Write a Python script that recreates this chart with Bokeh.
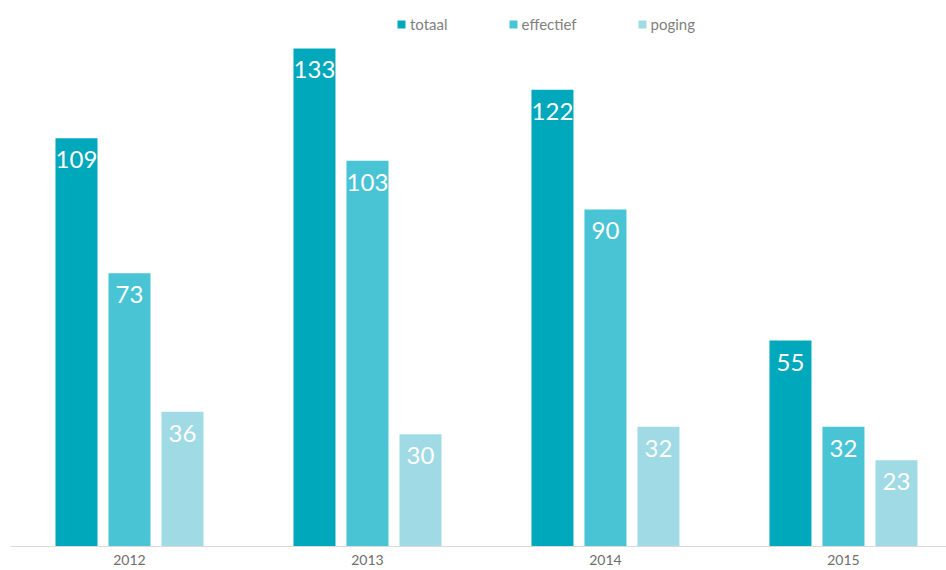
from bokeh.plotting import figure
from bokeh.models import ColumnDataSource, Legend, LegendItem, Range1d, FixedTicker
from bokeh.core.properties import value
from bokeh.embed import file_html
from bokeh.resources import INLINE

years = ["2012", "2013", "2014", "2015"]
series = ["totaal", "effectief", "poging"]
totaal = [109, 133, 122, 55]
effectief = [73, 103, 90, 32]
poging = [36, 30, 32, 23]
colors = ["#00A8BC", "#48C4D4", "#A0DAE4"]

FONT = "Lato"

p = figure(width=946, height=570, output_backend="svg", toolbar_location=None,
           x_range=Range1d(-0.5, 3.433), y_range=Range1d(0, 145.8),
           min_border_left=10, min_border_right=0, min_border_top=0, min_border_bottom=24)
p.outline_line_color = None
p.grid.grid_line_color = None
p.yaxis.visible = False
p.background_fill_color = "white"

xs = list(range(len(years)))
offsets = [-0.2227, 0.0, 0.2227]
renderers = []
for vals, off, col, name in zip([totaal, effectief, poging], offsets, colors, series):
    src = ColumnDataSource(dict(x=[x + off for x in xs], top=vals,
                                label=[str(v) for v in vals]))
    r = p.vbar(x="x", top="top", width=0.1765, source=src, fill_color=col, line_color=None)
    renderers.append((name, r))
    p.text(x="x", y="top", text="label", source=src, text_color="white",
           text_font=value(FONT), text_font_size="24px", text_align="center",
           text_baseline="top", y_offset=13)

p.xaxis.ticker = FixedTicker(ticks=xs)
p.xaxis.major_label_overrides = {i: y for i, y in enumerate(years)}
p.xaxis.axis_line_color = "#D9D9D9"
p.xaxis.axis_line_width = 1
p.xaxis.major_tick_line_color = None
p.xaxis.minor_tick_line_color = None
p.xaxis.major_label_text_font = FONT
p.xaxis.major_label_text_font_size = "14px"
p.xaxis.major_label_text_color = "#6E6E6E"
p.xaxis.major_label_standoff = 2

legend = Legend(items=[LegendItem(label=n, renderers=[r]) for n, r in renderers],
                orientation="horizontal", location=(386, 513),
                border_line_color=None, background_fill_alpha=0,
                label_text_font=FONT, label_text_font_size="15px",
                label_text_color="#7F7F7F", glyph_width=10, glyph_height=10,
                label_height=18, spacing=60, padding=2, margin=0,
                label_standoff=4)
p.add_layout(legend)

open("out.html", "w").write(file_html(p, INLINE))
